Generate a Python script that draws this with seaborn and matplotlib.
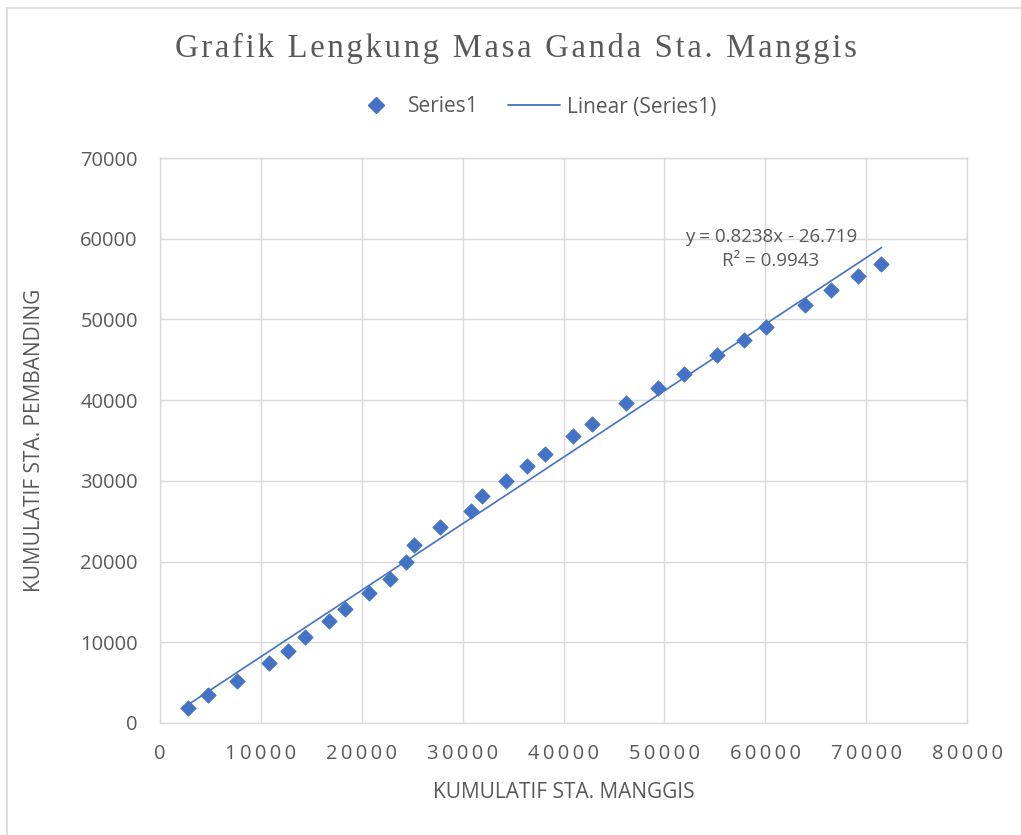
import matplotlib
matplotlib.use("Agg")
import matplotlib.pyplot as plt
from matplotlib.lines import Line2D
from matplotlib.patches import Rectangle
from matplotlib.ticker import FuncFormatter
import numpy as np
import pandas as pd
import seaborn as sns

# Cumulative rainfall: Sta. Manggis vs. comparison stations
kumulatif_manggis = [2800, 4790, 7660, 10830, 12640, 14360, 16770, 18380, 20690,
                     22770, 24360, 25150, 27790, 30790, 31880, 34260, 36370, 38120,
                     40930, 42810, 46200, 49340, 51920, 55250, 57920, 60070, 63960,
                     66500, 69210, 71520]
kumulatif_pembanding = [1860, 3520, 5170, 7450, 8980, 10640, 12620, 14160, 16060,
                        17890, 20000, 22030, 24300, 26210, 28080, 29940, 31800, 33330,
                        35600, 37060, 39670, 41530, 43270, 45540, 47400, 49070, 51760,
                        53620, 55360, 56850]

# Linear trendline as reported on the chart
slope = 0.8238
intercept = -26.719
r_squared = 0.9943

x_ticks = [0, 10000, 20000, 30000, 40000, 50000, 60000, 70000, 80000]
y_ticks = [0, 10000, 20000, 30000, 40000, 50000, 60000, 70000]

title = "Grafik Lengkung Masa Ganda Sta. Manggis"

df = pd.DataFrame({"manggis": kumulatif_manggis, "pembanding": kumulatif_pembanding})

sns.set_theme(style="white")
plt.rcParams["font.family"] = ["Open Sans", "DejaVu Sans"]

blue = "#4472C4"
grey_text = "#595959"
grid_col = "#D9D9D9"

fig = plt.figure(figsize=(10.21, 8.35), dpi=100)
fig.patch.set_facecolor("white")
ax = fig.add_axes([160 / 1021, 1 - 723 / 835, (967 - 160) / 1021, (723 - 158) / 835])

# chart outline
fig.patches.append(Rectangle((7 / 1021, -0.1), 1.2, 1 - 8 / 835 + 0.1,
                             transform=fig.transFigure, fill=False,
                             edgecolor=grid_col, linewidth=1.2, zorder=0))

sns.scatterplot(data=df, x="manggis", y="pembanding", marker="D", s=62,
                color=blue, edgecolor=blue, linewidth=0.5, ax=ax, zorder=3)

x_fit = np.array([min(kumulatif_manggis), max(kumulatif_manggis)])
ax.plot(x_fit, slope * x_fit + intercept, color=blue, linewidth=1.2, zorder=2)

ax.set_xlim(0, 80000)
ax.set_ylim(0, 70000)
ax.set_xticks(x_ticks)
ax.set_yticks(y_ticks)
ax.xaxis.set_major_formatter(FuncFormatter(lambda v, p: "\u2009".join(f"{int(v)}")))
ax.grid(True, color=grid_col, linewidth=1.0)
ax.set_axisbelow(True)
for sp in ax.spines.values():
    sp.set_color(grid_col)
    sp.set_linewidth(1.0)
ax.tick_params(axis="both", length=0, labelsize=14.5, labelcolor=grey_text)
ax.tick_params(axis="x", pad=15)
ax.tick_params(axis="y", pad=16)

ax.set_xlabel("KUMULATIF STA. MANGGIS", fontsize=15, color=grey_text, va="center")
ax.set_ylabel("KUMULATIF STA. PEMBANDING", fontsize=15, color=grey_text, va="center")
ax.xaxis.set_label_coords((564 - 160) / 807, (723 - 792) / 565)
ax.yaxis.set_label_coords((35 - 160) / 807, 0.5)

fig.text(516 / 1021, 1 - 48 / 835, "\u200a".join(title),
         ha="center", va="center", fontsize=23.5, color=grey_text,
         family=["Liberation Serif", "DejaVu Serif"])

handles = [
    Line2D([], [], marker="D", linestyle="none", color=blue, markersize=8),
    Line2D([], [], color=blue, linewidth=1.3),
]
fig.legend(handles, ["Series1", "Linear (Series1)"], loc="center",
           bbox_to_anchor=(533 / 1021, 1 - 107 / 835), ncol=2, frameon=False,
           fontsize=15, labelcolor=grey_text, handlelength=2.5, columnspacing=1.4,
           handletextpad=0.3)

fig.text(771 / 1021, 1 - 249 / 835,
         f"y = {slope}x - {abs(intercept)}\nR\u00b2 = {r_squared}",
         ha="center", va="center", fontsize=13.5, color=grey_text, linespacing=1.45)

fig.savefig("out.png", dpi=100)
